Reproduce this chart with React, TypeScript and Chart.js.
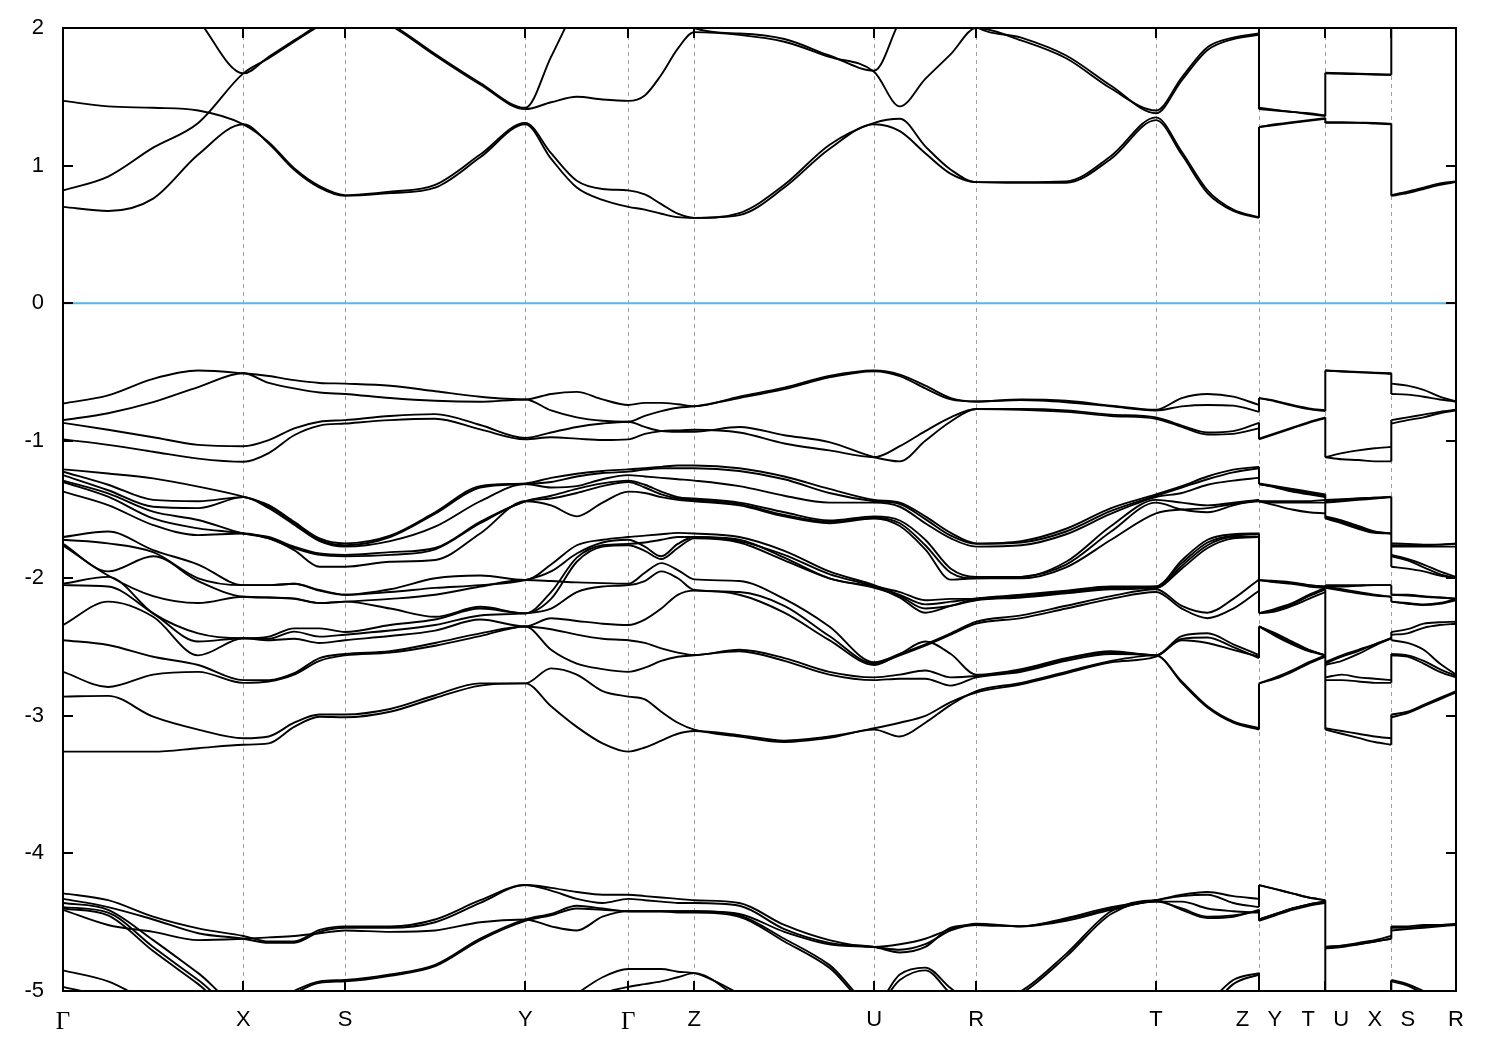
import React, { useEffect, useRef } from 'react';
import { Chart, registerables } from 'chart.js';

Chart.register(...registerables);

// High-symmetry points along the k-path (x positions) and their labels
const K_POS = [0, 1.803, 2.82, 4.623, 5.653, 6.313, 8.113, 9.133, 10.93, 11.96, 12.623, 13.283, 13.93];
const K_LABELS = ['Γ', 'X', 'S', 'Y', 'Γ', 'Z', 'U', 'R', 'T', 'Z   Y', 'T   U', 'X   S', 'R'];
const Y_TICKS = [2, 1, 0, -1, -2, -3, -4, -5];
const E_FERMI = 0;
// sample positions inside each path segment (fraction of the segment)
const SAMPLE_FRACS = [0, 0.25, 0.5, 0.75, 1];

// Each band: Γ-X(5) X-S(4) S-Y(4) Y-Γ(4) Γ-Z(4) Z-U(4) U-R(4) R-T(4) T-Z(4) | Y-T(5) | U-X(5) | S-R(5)
// Conduction bands
const C1 = [0.70,0.67,0.76,1.08,1.30, 1.16,0.97,0.84,0.78, 0.80,0.84,1.06,1.30, 1.05,0.84,0.75,0.70, 0.68,0.65,0.625,0.62, 0.64,0.84,1.12,1.30, 1.25,1.09,0.94,0.88, 0.875,0.875,1.05,1.33, 1.08,0.80,0.67,0.62, 1.28,1.295,1.31,1.325,1.34, 1.31,1.31,1.31,1.305,1.30, 0.78,0.80,0.83,0.86,0.88];
const C2 = [0.82,0.92,1.13,1.31,1.67, 1.78,1.90,2.02,2.15, 2.02,1.80,1.59,1.41, 1.46,1.50,1.48,1.47, 1.51,1.66,1.85,1.97, 1.95,1.90,1.79,1.68, 1.43,1.63,1.81,2.00, 1.91,1.78,1.56,1.40, 1.64,1.86,1.93,1.96, 1.41,1.40,1.39,1.375,1.36, 1.67,1.667,1.665,1.662,1.66, 2.15,2.12,2.08,2.04,2.00];
const C3 = [1.47,1.43,1.42,1.40,1.30, 1.17,0.98,0.85,0.785, 0.81,0.86,1.08,1.31, 1.09,0.89,0.83,0.82, 0.79,0.72,0.65,0.62, 0.655,0.86,1.15,1.31, 1.34,1.14,0.97,0.88, 0.88,0.885,1.07,1.35, 1.10,0.82,0.68,0.625, 1.28,1.30,1.315,1.33,1.345, 1.315,1.315,1.312,1.31,1.305, 0.785,0.81,0.84,0.87,0.885];
const C4 = [2.90,2.70,2.45,2.06,1.67, 1.79,1.91,2.03,2.16, 2.03,1.81,1.60,1.42, 1.79,2.17,2.50,2.80, 2.60,2.40,2.20,2.00, 1.96,1.92,1.80,1.69, 2.05,2.30,2.20,2.01, 1.93,1.80,1.58,1.38, 1.62,1.84,1.92,1.95, 1.42,1.405,1.39,1.38,1.365, 1.675,1.672,1.668,1.664,1.66, 2.16,2.13,2.09,2.05,2.01];

// Top valence bands
const V1 = [-0.73,-0.67,-0.55,-0.49,-0.51, -0.53,-0.56,-0.58,-0.585, -0.60,-0.64,-0.68,-0.70, -0.66,-0.645,-0.70,-0.74, -0.725,-0.725,-0.735,-0.75, -0.68,-0.615,-0.53,-0.49, -0.52,-0.60,-0.69,-0.715, -0.70,-0.71,-0.745,-0.775, -0.69,-0.66,-0.68,-0.74, -0.69,-0.71,-0.74,-0.765,-0.78, -0.49,-0.495,-0.50,-0.505,-0.51, -0.585,-0.60,-0.63,-0.68,-0.715];
const V2 = [-0.85,-0.80,-0.72,-0.61,-0.51, -0.58,-0.62,-0.65,-0.66, -0.69,-0.71,-0.717,-0.70, -0.78,-0.83,-0.855,-0.862, -0.82,-0.785,-0.76,-0.75, -0.69,-0.625,-0.54,-0.495, -0.53,-0.62,-0.70,-0.715, -0.705,-0.72,-0.75,-0.78, -0.75,-0.74,-0.745,-0.79, -0.69,-0.715,-0.745,-0.77,-0.785, -0.49,-0.497,-0.503,-0.508,-0.515, -0.66,-0.665,-0.68,-0.70,-0.715];
const V3 = [-0.87,-0.92,-0.975,-1.03,-1.04, -0.996,-0.91,-0.862,-0.85, -0.82,-0.807,-0.886,-0.98, -0.94,-0.90,-0.875,-0.862, -0.90,-0.93,-0.935,-0.935, -0.90,-0.96,-1.01,-1.12, -1.15,-1.00,-0.86,-0.77, -0.77,-0.78,-0.81,-0.83, -0.89,-0.94,-0.93,-0.87, -0.99,-0.95,-0.91,-0.87,-0.835, -1.12,-1.09,-1.07,-1.055,-1.045, -0.85,-0.83,-0.81,-0.79,-0.775];
const V4 = [-0.99,-1.03,-1.08,-1.13,-1.153, -1.09,-0.96,-0.89,-0.875, -0.85,-0.84,-0.918,-0.99, -0.975,-0.985,-0.995,-0.99, -0.95,-0.93,-0.925,-0.92, -0.94,-1.02,-1.07,-1.12, -1.04,-0.93,-0.83,-0.77, -0.775,-0.79,-0.82,-0.84, -0.90,-0.955,-0.95,-0.91, -0.985,-0.945,-0.905,-0.865,-0.83, -1.12,-1.135,-1.14,-1.15,-1.15, -0.875,-0.85,-0.83,-0.80,-0.78];

// Middle valence bands
const M1 = [-1.208,-1.238,-1.274,-1.334,-1.407, -1.468,-1.59,-1.71,-1.746, -1.69,-1.52,-1.33,-1.31, -1.27,-1.24,-1.22,-1.208, -1.20,-1.19,-1.18,-1.18, -1.20,-1.26,-1.35,-1.43, -1.45,-1.55,-1.67,-1.746, -1.73,-1.64,-1.49,-1.39, -1.33,-1.26,-1.21,-1.19, -1.31,-1.33,-1.35,-1.37,-1.39, -1.43,-1.425,-1.42,-1.415,-1.407, -1.746,-1.75,-1.755,-1.755,-1.746];
const M2 = [-1.225,-1.32,-1.43,-1.44,-1.41, -1.48,-1.60,-1.72,-1.76, -1.70,-1.53,-1.34,-1.315, -1.30,-1.26,-1.235,-1.225, -1.21,-1.20,-1.20,-1.20, -1.22,-1.28,-1.38,-1.44, -1.46,-1.57,-1.69,-1.75, -1.74,-1.66,-1.51,-1.40, -1.34,-1.28,-1.23,-1.20, -1.315,-1.335,-1.36,-1.38,-1.40, -1.44,-1.43,-1.42,-1.415,-1.41, -1.76,-1.76,-1.76,-1.755,-1.75];
const M3 = [-1.25,-1.36,-1.48,-1.49,-1.41, -1.49,-1.61,-1.73,-1.77, -1.73,-1.625,-1.44,-1.315, -1.34,-1.33,-1.28,-1.25, -1.26,-1.27,-1.28,-1.29, -1.33,-1.40,-1.45,-1.45, -1.48,-1.60,-1.71,-1.77, -1.76,-1.68,-1.53,-1.41, -1.38,-1.32,-1.29,-1.27, -1.315,-1.34,-1.37,-1.39,-1.41, -1.45,-1.44,-1.43,-1.42,-1.41, -1.77,-1.77,-1.77,-1.77,-1.77];
const M4 = [-1.29,-1.383,-1.516,-1.576,-1.674, -1.70,-1.77,-1.82,-1.83, -1.81,-1.78,-1.59,-1.44, -1.40,-1.35,-1.31,-1.29, -1.32,-1.37,-1.41,-1.42, -1.45,-1.52,-1.58,-1.55, -1.58,-1.72,-1.93,-1.99, -1.99,-1.88,-1.62,-1.43, -1.45,-1.47,-1.45,-1.43, -1.44,-1.44,-1.44,-1.44,-1.43, -1.55,-1.58,-1.62,-1.66,-1.674, -1.83,-1.86,-1.90,-1.95,-1.99];
const M5 = [-1.30,-1.407,-1.565,-1.637,-1.674, -1.71,-1.78,-1.83,-1.84, -1.83,-1.79,-1.60,-1.44, -1.42,-1.38,-1.33,-1.30, -1.34,-1.39,-1.42,-1.43, -1.46,-1.54,-1.59,-1.56, -1.60,-1.76,-1.96,-2.00, -1.99,-1.90,-1.66,-1.45, -1.50,-1.52,-1.47,-1.43, -1.44,-1.45,-1.45,-1.45,-1.45, -1.56,-1.59,-1.63,-1.665,-1.674, -1.84,-1.87,-1.92,-1.97,-2.00];
const M6 = [-1.37,-1.468,-1.613,-1.686,-1.674, -1.71,-1.795,-1.916,-1.916, -1.88,-1.867,-1.674,-1.44, -1.47,-1.55,-1.45,-1.37, -1.38,-1.41,-1.43,-1.44, -1.47,-1.55,-1.60,-1.565, -1.62,-1.79,-2.01,-2.00, -2.00,-1.92,-1.72,-1.528, -1.50,-1.49,-1.46,-1.44, -1.44,-1.47,-1.50,-1.52,-1.528, -1.565,-1.60,-1.64,-1.67,-1.674, -1.916,-1.93,-1.95,-1.98,-2.00];
const M7 = [-1.70,-1.66,-1.795,-1.90,-2.05, -2.05,-2.04,-2.085,-2.12, -2.08,-2.00,-1.98,-2.013, -1.90,-1.76,-1.72,-1.70, -1.69,-1.68,-1.67,-1.674, -1.70,-1.80,-1.95,-2.05, -2.12,-2.19,-2.17,-2.146, -2.12,-2.09,-2.06,-2.06, -1.87,-1.72,-1.68,-1.674, -2.013,-2.02,-2.03,-2.05,-2.06, -2.05,-2.05,-2.05,-2.05,-2.05, -2.12,-2.12,-2.13,-2.14,-2.146];
const M8 = [-1.72,-1.746,-1.81,-2.00,-2.05, -2.05,-2.04,-2.09,-2.12, -2.10,-2.07,-2.05,-2.013, -1.95,-1.82,-1.74,-1.72, -1.77,-1.84,-1.75,-1.70, -1.73,-1.83,-1.97,-2.06, -2.14,-2.25,-2.20,-2.15, -2.13,-2.10,-2.07,-2.06, -1.89,-1.74,-1.69,-1.68, -2.013,-2.025,-2.035,-2.05,-2.06, -2.06,-2.06,-2.055,-2.05,-2.05, -2.12,-2.125,-2.135,-2.14,-2.15];
const M9 = [-1.75,-1.95,-1.84,-2.02,-2.134, -2.14,-2.146,-2.18,-2.17, -2.15,-2.12,-2.06,-2.013, -2.02,-2.03,-2.035,-2.04, -1.96,-1.89,-1.94,-2.008, -2.02,-2.15,-2.35,-2.61, -2.55,-2.48,-2.40,-2.316, -2.27,-2.20,-2.13,-2.08, -2.20,-2.25,-2.15,-2.008, -2.013,-2.03,-2.04,-2.06,-2.07, -2.06,-2.08,-2.10,-2.12,-2.134, -2.17,-2.18,-2.19,-2.18,-2.15];
const M10 = [-1.76,-1.98,-2.13,-2.18,-2.134, -2.14,-2.15,-2.18,-2.17, -2.22,-2.28,-2.207,-2.255, -2.10,-1.85,-1.76,-1.75, -1.74,-1.72,-1.70,-1.70, -1.72,-1.85,-2.00,-2.06, -2.10,-2.16,-2.15,-2.15, -2.13,-2.10,-2.07,-2.07, -1.91,-1.76,-1.70,-1.70, -2.255,-2.22,-2.18,-2.12,-2.07, -2.07,-2.09,-2.11,-2.125,-2.134, -2.17,-2.185,-2.195,-2.185,-2.16];
const M11 = [-2.04,-1.99,-2.255,-2.40,-2.436, -2.424,-2.364,-2.364,-2.39, -2.34,-2.30,-2.22,-2.255, -2.15,-1.88,-1.77,-1.76, -1.80,-1.86,-1.78,-1.71, -1.74,-1.87,-2.00,-2.07, -2.13,-2.22,-2.20,-2.16, -2.14,-2.11,-2.08,-2.07, -1.93,-1.78,-1.71,-1.70, -2.255,-2.23,-2.19,-2.13,-2.08, -2.61,-2.56,-2.52,-2.48,-2.436, -2.39,-2.37,-2.33,-2.32,-2.316];
const M12 = [-2.05,-2.06,-2.255,-2.46,-2.436, -2.44,-2.388,-2.424,-2.41, -2.38,-2.34,-2.27,-2.255, -2.22,-2.10,-2.06,-2.05, -2.02,-1.95,-2.00,-2.085, -2.10,-2.20,-2.42,-2.62, -2.56,-2.49,-2.41,-2.33, -2.29,-2.22,-2.15,-2.10, -2.22,-2.29,-2.22,-2.09, -2.255,-2.24,-2.20,-2.15,-2.10, -2.62,-2.57,-2.53,-2.48,-2.436, -2.41,-2.40,-2.36,-2.34,-2.33];
const M13 = [-2.34,-2.17,-2.28,-2.56,-2.436, -2.45,-2.44,-2.47,-2.45, -2.42,-2.38,-2.30,-2.35, -2.29,-2.31,-2.33,-2.34, -2.30,-2.22,-2.12,-2.09, -2.12,-2.25,-2.45,-2.63, -2.55,-2.46,-2.55,-2.70, -2.66,-2.58,-2.53,-2.56, -2.42,-2.40,-2.48,-2.558, -2.35,-2.40,-2.46,-2.52,-2.56, -2.63,-2.60,-2.55,-2.49,-2.436, -2.45,-2.47,-2.52,-2.62,-2.70];
const M14 = [-2.45,-2.485,-2.57,-2.63,-2.74, -2.74,-2.69,-2.58,-2.55, -2.53,-2.47,-2.40,-2.35, -2.37,-2.41,-2.44,-2.45, -2.47,-2.51,-2.54,-2.558, -2.52,-2.58,-2.68,-2.72, -2.70,-2.67,-2.72,-2.71, -2.67,-2.59,-2.54,-2.56, -2.44,-2.43,-2.50,-2.58, -2.35,-2.41,-2.47,-2.52,-2.56, -2.72,-2.70,-2.72,-2.73,-2.74, -2.55,-2.56,-2.60,-2.66,-2.71];
const M15 = [-2.68,-2.79,-2.70,-2.68,-2.76, -2.75,-2.70,-2.60,-2.56, -2.54,-2.49,-2.42,-2.35, -2.52,-2.62,-2.66,-2.68, -2.65,-2.60,-2.57,-2.56, -2.53,-2.60,-2.70,-2.74, -2.73,-2.73,-2.78,-2.72, -2.68,-2.60,-2.55,-2.56, -2.75,-2.93,-3.04,-3.09, -2.35,-2.42,-2.48,-2.53,-2.56, -2.74,-2.74,-2.75,-2.76,-2.76, -2.56,-2.57,-2.62,-2.68,-2.72];
const M16 = [-2.86,-2.855,-3.006,-3.10,-3.163, -3.15,-3.05,-2.99,-2.99, -2.95,-2.85,-2.764,-2.764, -2.655,-2.70,-2.82,-2.86, -2.88,-2.97,-3.05,-3.10, -3.15,-3.19,-3.16,-3.10, -3.15,-3.05,-2.92,-2.82, -2.76,-2.68,-2.60,-2.56, -2.76,-2.94,-3.05,-3.10, -2.764,-2.72,-2.67,-2.61,-2.56, -3.09,-3.11,-3.13,-3.15,-3.163, -2.99,-2.97,-2.92,-2.87,-2.82];
const M17 = [-3.26,-3.26,-3.26,-3.235,-3.21, -3.20,-3.08,-3.006,-3.01, -2.97,-2.87,-2.78,-2.764, -2.93,-3.08,-3.20,-3.26, -3.23,-3.18,-3.13,-3.11, -3.14,-3.18,-3.15,-3.09, -3.05,-3.00,-2.90,-2.83, -2.77,-2.69,-2.61,-2.57, -2.45,-2.47,-2.52,-2.57, -2.764,-2.73,-2.68,-2.62,-2.57, -3.10,-3.13,-3.16,-3.19,-3.21, -3.01,-2.98,-2.93,-2.88,-2.83];

// Lower valence bands
const L1 = [-4.29,-4.34,-4.46,-4.545,-4.60, -4.64,-4.64,-4.556,-4.53, -4.53,-4.48,-4.34,-4.23, -4.25,-4.28,-4.30,-4.30, -4.31,-4.32,-4.33,-4.34, -4.36,-4.52,-4.63,-4.68, -4.66,-4.62,-4.55,-4.51, -4.53,-4.47,-4.39,-4.34, -4.30,-4.28,-4.31,-4.33, -4.23,-4.26,-4.29,-4.32,-4.34, -4.68,-4.67,-4.65,-4.63,-4.60, -4.53,-4.53,-4.52,-4.52,-4.51];
const L2 = [-4.33,-4.39,-4.48,-4.58,-4.62, -4.65,-4.65,-4.57,-4.54, -4.54,-4.50,-4.36,-4.23, -4.27,-4.33,-4.36,-4.33, -4.34,-4.35,-4.36,-4.36, -4.38,-4.55,-4.65,-4.68, -4.72,-4.68,-4.54,-4.52, -4.53,-4.48,-4.40,-4.34, -4.31,-4.30,-4.36,-4.39, -4.23,-4.26,-4.29,-4.32,-4.34, -4.69,-4.68,-4.66,-4.64,-4.62, -4.54,-4.54,-4.53,-4.52,-4.52];
const L3 = [-4.41,-4.52,-4.57,-4.63,-4.62, -4.61,-4.60,-4.58,-4.56, -4.57,-4.56,-4.50,-4.48, -4.53,-4.56,-4.46,-4.42, -4.42,-4.42,-4.42,-4.42, -4.45,-4.62,-4.81,-5.10, -4.88,-4.83,-4.98,-5.10, -5.00,-4.73,-4.42,-4.34, -4.41,-4.47,-4.46,-4.41, -4.48,-4.44,-4.40,-4.37,-4.35, -4.68,-4.67,-4.66,-4.64,-4.62, -4.56,-4.55,-4.54,-4.53,-4.52];
const L4 = [-4.36,-4.41,-4.63,-4.87,-5.11, -5.10,-5.00,-4.93,-4.92, -4.88,-4.81,-4.62,-4.48, -4.44,-4.38,-4.40,-4.42, -4.42,-4.42,-4.42,-4.42, -4.44,-4.57,-4.66,-4.68, -4.70,-4.66,-4.56,-4.52, -4.53,-4.49,-4.41,-4.35, -4.40,-4.46,-4.45,-4.42, -4.48,-4.44,-4.40,-4.37,-4.35, -5.10,-5.10,-5.10,-5.11,-5.11, -4.92,-4.95,-5.00,-5.05,-5.10];
const L5 = [-4.39,-4.43,-4.68,-4.92,-5.15, -5.15,-5.02,-4.94,-4.93, -4.89,-4.82,-4.63,-4.49, -4.45,-4.40,-4.41,-4.42, -4.42,-4.42,-4.43,-4.43, -4.46,-4.64,-4.83,-5.12, -4.92,-4.85,-5.02,-5.15, -5.02,-4.75,-4.44,-4.35, -4.35,-4.40,-4.42,-4.43, -4.49,-4.45,-4.41,-4.38,-4.36, -5.12,-5.13,-5.14,-5.15,-5.15, -4.93,-4.96,-5.02,-5.07,-5.15];
const L6 = [-4.40,-4.45,-4.71,-4.95,-5.20, -5.20,-5.12,-5.08,-5.05, -5.06,-5.08,-5.10,-5.12, -5.15,-5.02,-4.90,-4.84, -4.84,-4.84,-4.86,-4.87, -5.02,-5.20,-5.30,-5.30, -5.30,-5.30,-5.30,-5.30, -5.30,-5.30,-5.30,-5.30, -5.30,-5.10,-4.92,-4.87, -5.20,-5.20,-5.20,-5.20,-5.20, -5.20,-5.20,-5.20,-5.20,-5.20, -5.20,-5.20,-5.20,-5.20,-5.20];
const L7 = [-4.85,-4.93,-5.10,-5.30,-5.40, -5.40,-5.40,-5.30,-5.30, -5.30,-5.30,-5.30,-5.30, -5.25,-5.15,-5.02,-4.97, -4.95,-4.93,-4.90,-4.87, -5.05,-5.20,-5.30,-5.30, -5.30,-5.30,-5.30,-5.30, -5.30,-5.30,-5.30,-5.30, -5.30,-5.15,-4.95,-4.88, -5.30,-5.30,-5.30,-5.30,-5.30, -5.30,-5.30,-5.30,-5.30,-5.30, -5.30,-5.30,-5.30,-5.30,-5.30];
const L8 = [-4.97,-5.05,-5.20,-5.35,-5.45, -5.45,-5.45,-5.45,-5.45, -5.45,-5.45,-5.45,-5.45, -5.45,-5.45,-5.45,-5.45, -5.45,-5.45,-5.45,-5.45, -5.45,-5.45,-5.45,-5.45, -5.45,-5.45,-5.45,-5.45, -5.45,-5.45,-5.45,-5.45, -5.45,-5.45,-5.45,-5.45, -5.45,-5.45,-5.45,-5.45,-5.45, -5.45,-5.45,-5.45,-5.45,-5.45, -5.45,-5.45,-5.45,-5.45,-5.45];

const BANDS = [C1, C2, C3, C4, V1, V2, V3, V4, M1, M2, M3, M4, M5, M6, M7, M8, M9, M10, M11, M12, M13, M14, M15, M16, M17, L1, L2, L3, L4, L5, L6, L7, L8];

function buildX(): number[] {
  const xs: number[] = [];
  for (let s = 0; s < 9; s++) {
    SAMPLE_FRACS.forEach((f, i) => {
      if (s > 0 && i === 0) return;
      xs.push(K_POS[s] + f * (K_POS[s + 1] - K_POS[s]));
    });
  }
  for (let s = 9; s < 12; s++) {
    SAMPLE_FRACS.forEach((f) => xs.push(K_POS[s] + f * (K_POS[s + 1] - K_POS[s])));
  }
  return xs;
}

const framePlugin = {
  id: 'bandFrame',
  beforeDatasetsDraw(chart: any) {
    const { ctx, chartArea } = chart;
    const { top, bottom } = chartArea;
    const xs = chart.scales.x;
    ctx.save();
    ctx.strokeStyle = '#a0a0a0';
    ctx.lineWidth = 1;
    ctx.setLineDash([4, 4]);
    K_POS.slice(1, -1).forEach((k) => {
      const px = Math.round(xs.getPixelForValue(k)) + 0.5;
      ctx.beginPath();
      ctx.moveTo(px, top);
      ctx.lineTo(px, bottom);
      ctx.stroke();
    });
    ctx.restore();
  },
  afterDatasetsDraw(chart: any) {
    const { ctx, chartArea } = chart;
    const { left, right, top, bottom } = chartArea;
    const xs = chart.scales.x;
    const ys = chart.scales.y;
    ctx.save();
    ctx.strokeStyle = '#000';
    ctx.setLineDash([]);
    ctx.lineWidth = 2;
    K_POS.slice(1, -1).forEach((k) => {
      const px = Math.round(xs.getPixelForValue(k));
      ctx.beginPath();
      ctx.moveTo(px, bottom);
      ctx.lineTo(px, bottom - 10);
      ctx.moveTo(px, top);
      ctx.lineTo(px, top + 10);
      ctx.stroke();
    });
    Y_TICKS.forEach((v) => {
      const py = Math.round(ys.getPixelForValue(v));
      ctx.beginPath();
      ctx.moveTo(left, py);
      ctx.lineTo(left + 10, py);
      ctx.moveTo(right, py);
      ctx.lineTo(right - 10, py);
      ctx.stroke();
    });
    ctx.lineWidth = 2;
    ctx.strokeRect(left, top, right - left, bottom - top);
    ctx.restore();
  },
};

export default function App() {
  const canvasRef = useRef<HTMLCanvasElement | null>(null);

  useEffect(() => {
    if (!canvasRef.current) return;
    const xs = buildX();
    const ranges = [[0, 37], [37, 42], [42, 47], [47, 52]];
    const datasets: any[] = [];
    BANDS.forEach((b) => {
      ranges.forEach(([a, e]) => {
        datasets.push({
          data: xs.slice(a, e).map((x, i) => ({ x, y: b[a + i] })),
          borderColor: '#000',
          borderWidth: 1.9,
          pointRadius: 0,
          cubicInterpolationMode: 'monotone',
          fill: false,
          clip: 0,
        });
      });
    });
    // vertical connections at path discontinuities (bands joined in energy order)
    [[36, 37, 9], [41, 42, 10], [46, 47, 11]].forEach(([i0, i1, k]) => {
      const A = BANDS.map((b) => b[i0]).sort((p, q) => p - q);
      const B = BANDS.map((b) => b[i1]).sort((p, q) => p - q);
      const pts: any[] = [];
      A.forEach((v, r) => {
        pts.push({ x: K_POS[k], y: v }, { x: K_POS[k], y: B[r] }, { x: K_POS[k], y: null });
      });
      datasets.push({
        data: pts,
        borderColor: '#000',
        borderWidth: 2,
        pointRadius: 0,
        tension: 0,
        spanGaps: false,
        fill: false,
        clip: 0,
      });
    });
    datasets.push({
      data: [{ x: K_POS[0], y: E_FERMI }, { x: K_POS[K_POS.length - 1], y: E_FERMI }],
      borderColor: '#56B4E9',
      borderWidth: 2,
      pointRadius: 0,
      fill: false,
      clip: 0,
    });

    const chart = new Chart(canvasRef.current, {
      type: 'line',
      data: { datasets },
      options: {
        responsive: false,
        animation: false,
        events: [],
        layout: { padding: { top: 28, right: 44, left: 0, bottom: 0 } },
        plugins: { legend: { display: false }, tooltip: { enabled: false } },
        scales: {
          x: {
            type: 'linear',
            min: K_POS[0],
            max: K_POS[K_POS.length - 1],
            grid: { display: false, drawTicks: false },
            border: { display: false },
            afterBuildTicks: (s: any) => {
              s.ticks = K_POS.map((v) => ({ value: v }));
            },
            afterFit: (s: any) => {
              s.height = 59;
              s.paddingLeft = 0;
              s.paddingRight = 0;
            },
            ticks: {
              autoSkip: false,
              maxRotation: 0,
              minRotation: 0,
              padding: 16,
              color: '#000',
              font: (c: any) =>
                K_LABELS[c.index] === 'Γ'
                  ? { family: '"Liberation Serif", "DejaVu Serif", serif', size: 25 }
                  : { family: '"Liberation Sans", Arial, sans-serif', size: 22 },
              callback: (_v: any, i: number) => K_LABELS[i],
            },
          },
          y: {
            type: 'linear',
            min: -5,
            max: 2,
            grid: { display: false, drawTicks: false },
            border: { display: false },
            afterBuildTicks: (s: any) => {
              s.ticks = Y_TICKS.map((v) => ({ value: v }));
            },
            afterFit: (s: any) => {
              s.width = 63;
              s.paddingTop = 0;
              s.paddingBottom = 0;
            },
            ticks: {
              padding: 19,
              color: '#000',
              font: { family: '"Liberation Sans", Arial, sans-serif', size: 22 },
              callback: (v: any) => String(v),
            },
          },
        },
      },
      plugins: [framePlugin],
    } as any);

    return () => chart.destroy();
  }, []);

  return (
    <div style={{ position: 'absolute', left: 0, top: 0, width: 1500, height: 1050, background: '#fff' }}>
      <canvas ref={canvasRef} width={1500} height={1050} style={{ display: 'block' }} />
    </div>
  );
}
